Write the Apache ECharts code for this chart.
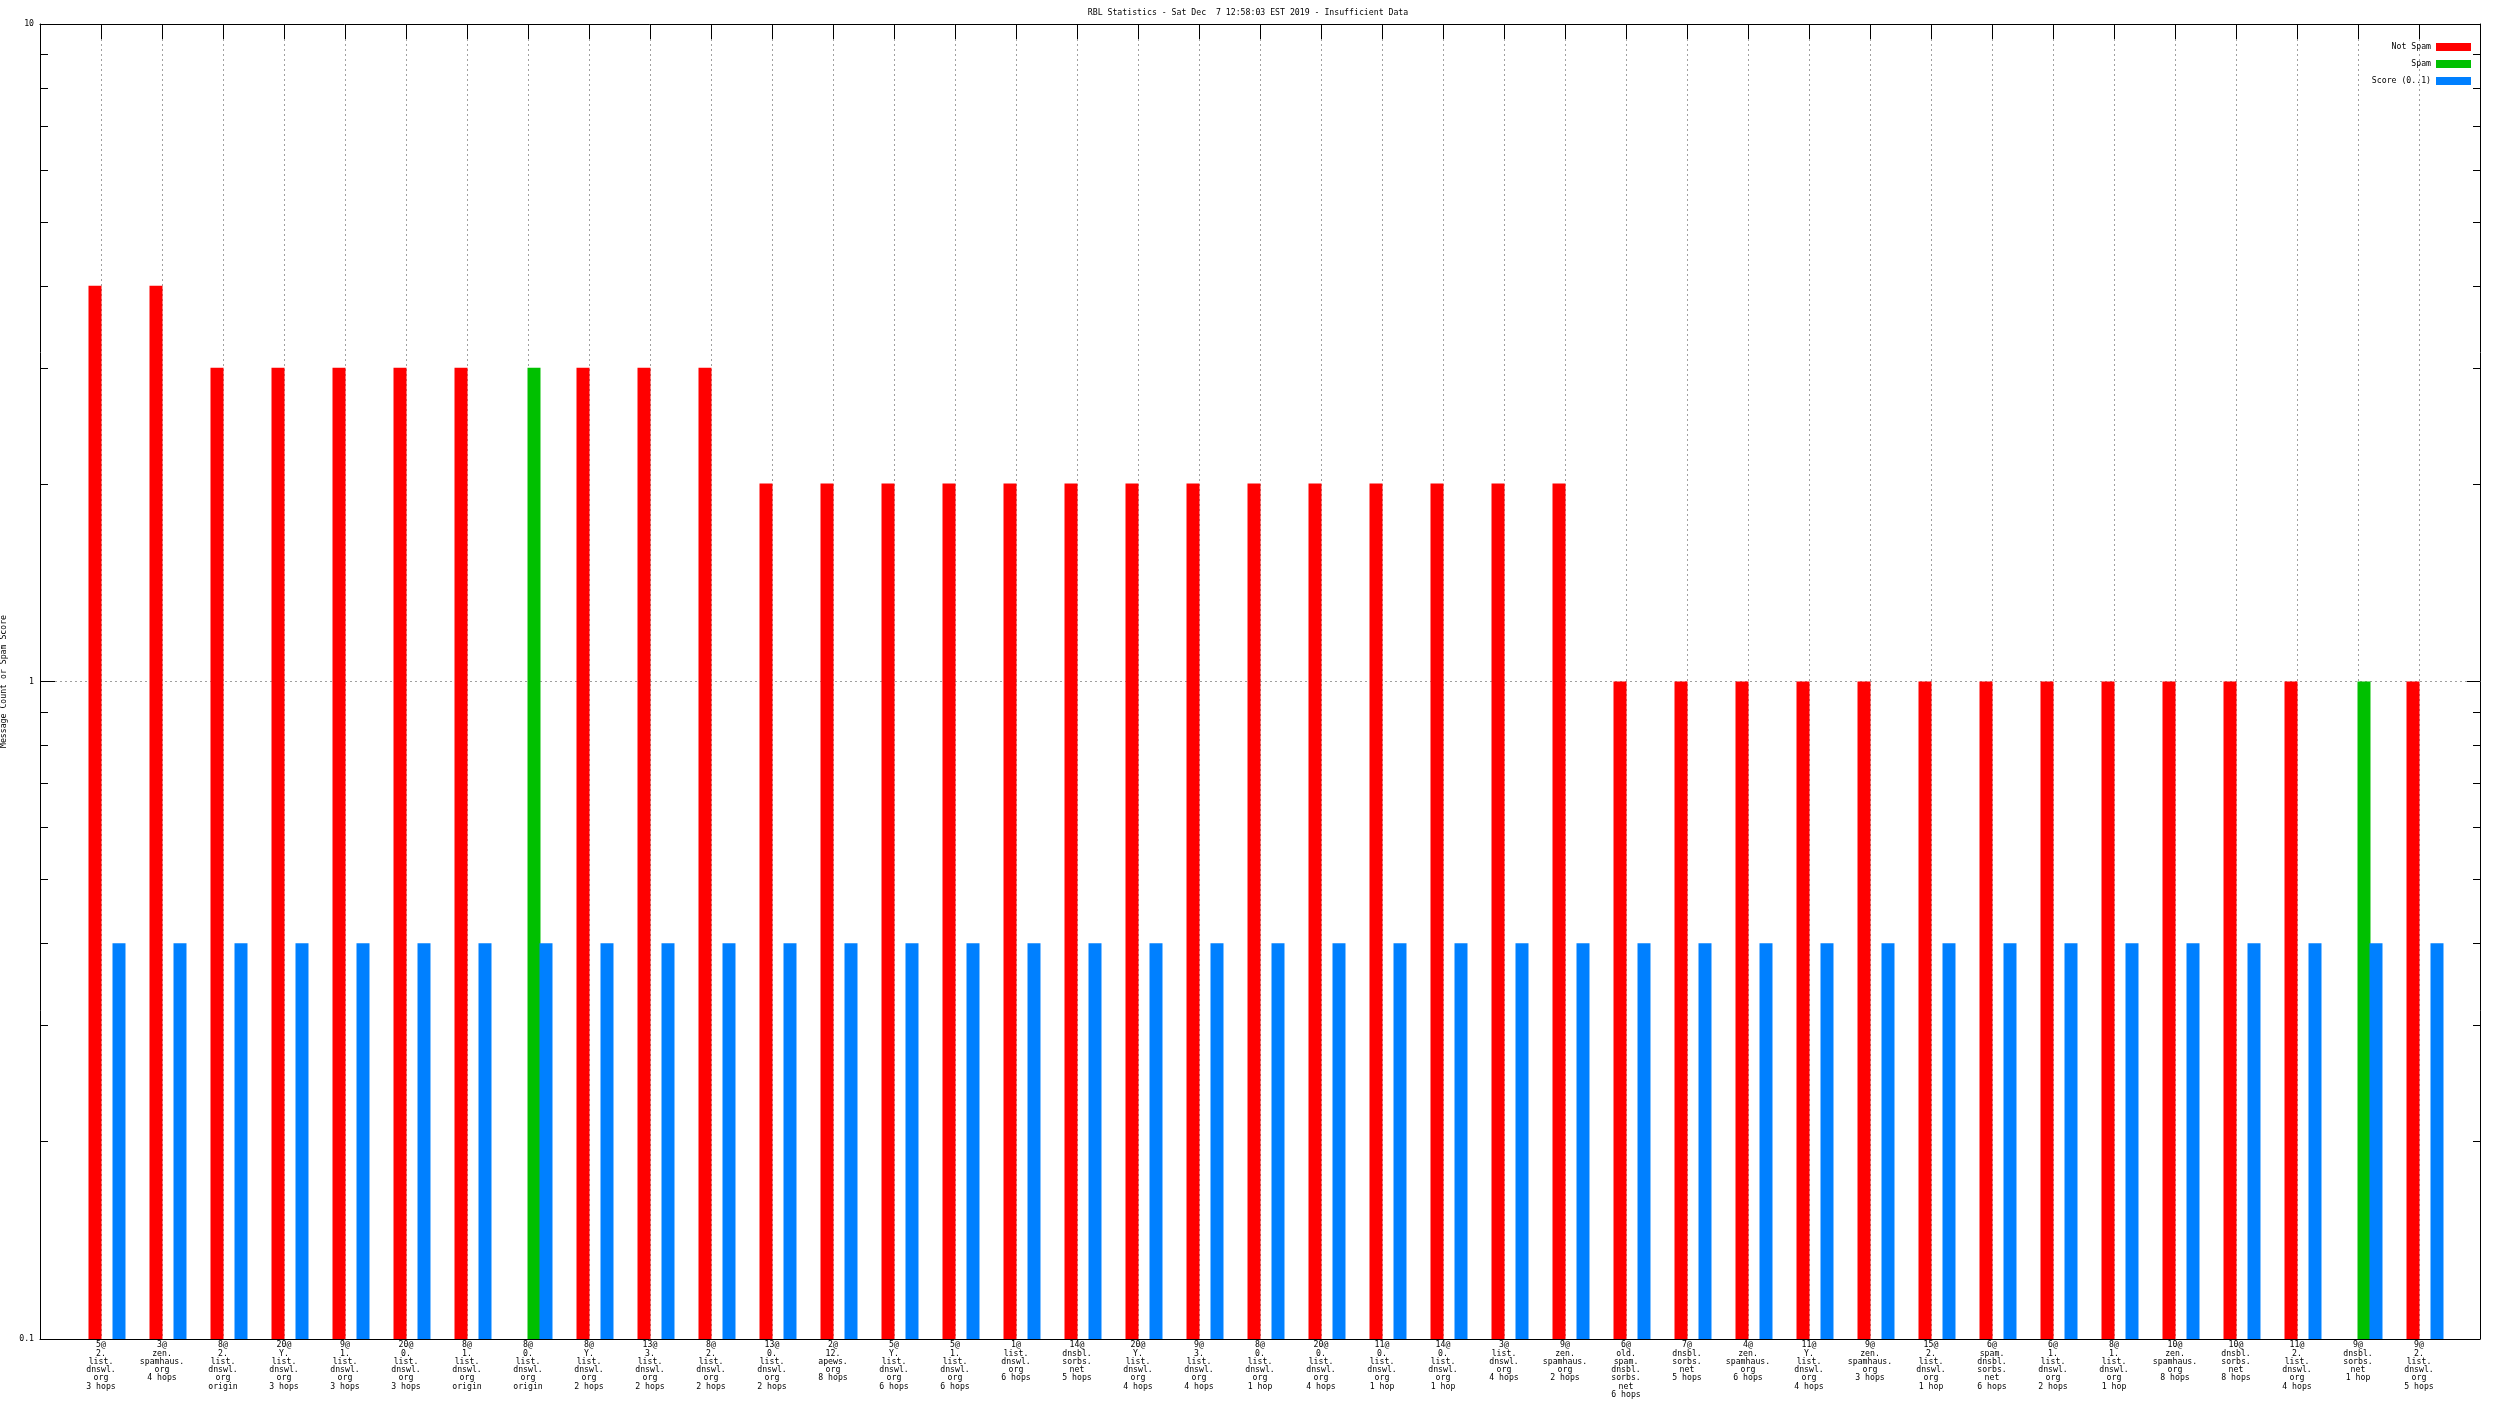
<!DOCTYPE html>
<html>
<head>
<meta charset="utf-8">
<script src="https://cdn.jsdelivr.net/npm/echarts@6/dist/echarts.min.js"></script>
<style>html,body{margin:0;padding:0;background:#fff}#c{width:2496px;height:1404px}</style>
</head>
<body>
<div id="c"></div>
<script>
const titleText = 'RBL Statistics - Sat Dec  7 12:58:03 EST 2019 - Insufficient Data';
const yAxisName = 'Message Count or Spam Score';
const categories = [
  '5@\n2.\nlist.\ndnswl.\norg\n3 hops',
  '3@\nzen.\nspamhaus.\norg\n4 hops',
  '8@\n2.\nlist.\ndnswl.\norg\norigin',
  '20@\nY.\nlist.\ndnswl.\norg\n3 hops',
  '9@\n1.\nlist.\ndnswl.\norg\n3 hops',
  '20@\n0.\nlist.\ndnswl.\norg\n3 hops',
  '8@\n1.\nlist.\ndnswl.\norg\norigin',
  '8@\n0.\nlist.\ndnswl.\norg\norigin',
  '8@\nY.\nlist.\ndnswl.\norg\n2 hops',
  '13@\n3.\nlist.\ndnswl.\norg\n2 hops',
  '8@\n2.\nlist.\ndnswl.\norg\n2 hops',
  '13@\n0.\nlist.\ndnswl.\norg\n2 hops',
  '2@\n12.\napews.\norg\n8 hops',
  '5@\nY.\nlist.\ndnswl.\norg\n6 hops',
  '5@\n1.\nlist.\ndnswl.\norg\n6 hops',
  '1@\nlist.\ndnswl.\norg\n6 hops',
  '14@\ndnsbl.\nsorbs.\nnet\n5 hops',
  '20@\nY.\nlist.\ndnswl.\norg\n4 hops',
  '9@\n3.\nlist.\ndnswl.\norg\n4 hops',
  '8@\n0.\nlist.\ndnswl.\norg\n1 hop',
  '20@\n0.\nlist.\ndnswl.\norg\n4 hops',
  '11@\n0.\nlist.\ndnswl.\norg\n1 hop',
  '14@\n0.\nlist.\ndnswl.\norg\n1 hop',
  '3@\nlist.\ndnswl.\norg\n4 hops',
  '9@\nzen.\nspamhaus.\norg\n2 hops',
  '6@\nold.\nspam.\ndnsbl.\nsorbs.\nnet\n6 hops',
  '7@\ndnsbl.\nsorbs.\nnet\n5 hops',
  '4@\nzen.\nspamhaus.\norg\n6 hops',
  '11@\nY.\nlist.\ndnswl.\norg\n4 hops',
  '9@\nzen.\nspamhaus.\norg\n3 hops',
  '15@\n2.\nlist.\ndnswl.\norg\n1 hop',
  '6@\nspam.\ndnsbl.\nsorbs.\nnet\n6 hops',
  '6@\n1.\nlist.\ndnswl.\norg\n2 hops',
  '8@\n1.\nlist.\ndnswl.\norg\n1 hop',
  '10@\nzen.\nspamhaus.\norg\n8 hops',
  '10@\ndnsbl.\nsorbs.\nnet\n8 hops',
  '11@\n2.\nlist.\ndnswl.\norg\n4 hops',
  '9@\ndnsbl.\nsorbs.\nnet\n1 hop',
  '9@\n2.\nlist.\ndnswl.\norg\n5 hops'
];
const notSpam = [4,4,3,3,3,3,3,null,3,3,3,2,2,2,2,2,2,2,2,2,2,2,2,2,2,1,1,1,1,1,1,1,1,1,1,1,1,null,1];
const spam    = [null,null,null,null,null,null,null,3,null,null,null,null,null,null,null,null,null,null,null,null,null,null,null,null,null,null,null,null,null,null,null,null,null,null,null,null,null,1,null];
const score   = [0.4,0.4,0.4,0.4,0.4,0.4,0.4,0.4,0.4,0.4,0.4,0.4,0.4,0.4,0.4,0.4,0.4,0.4,0.4,0.4,0.4,0.4,0.4,0.4,0.4,0.4,0.4,0.4,0.4,0.4,0.4,0.4,0.4,0.4,0.4,0.4,0.4,0.4,0.4];
const yTickValues = [0.1, 1, 10];
const yMinorTicks = [0.2,0.3,0.4,0.5,0.6,0.7,0.8,0.9,2,3,4,5,6,7,8,9];
const seriesNames = ['Not Spam','Spam','Score (0..1)'];
const seriesColors = ['#ff0000','#00c000','#0080ff'];

const FONT = 'DejaVu Sans Mono';
const FS = 8.2;
const pad = a => [null].concat(a, [null]);
const cats = [''].concat(categories, ['']);

const chart = echarts.init(document.getElementById('c'), null, {renderer: 'canvas'});
const barCommon = {type: 'bar', barWidth: 13, barGap: '-7.7%', xAxisIndex: 0, yAxisIndex: 0};
const option = {
  animation: false,
  backgroundColor: '#ffffff',
  title: {
    text: titleText, left: 'center', top: 8, padding: 0,
    textStyle: {fontFamily: FONT, fontSize: FS, fontWeight: 'normal', color: '#000', lineHeight: 9}
  },
  legend: {
    data: seriesNames, orient: 'vertical', right: 25, top: 43, align: 'right', padding: 0,
    itemWidth: 35, itemHeight: 8, itemGap: 9, icon: 'rect',
    textStyle: {fontFamily: FONT, fontSize: FS, color: '#000', lineHeight: 8}
  },
  grid: {left: 40, right: 16, top: 24, bottom: 65, containLabel: false, outerBoundsMode: 'none'},
  xAxis: [{
    type: 'category', data: cats, boundaryGap: false, position: 'bottom',
    axisLine: {show: true, lineStyle: {color: '#000', width: 1}},
    axisTick: {show: false},
    axisLabel: {interval: 0, fontFamily: FONT, fontSize: FS, lineHeight: 8.3, margin: 2, color: '#000', hideOverlap: false},
    splitLine: {show: true, interval: 0, lineStyle: {color: '#a0a0a0', type: [2, 3], width: 1}}
  }, {
    type: 'category', data: cats, boundaryGap: false, position: 'top',
    axisLine: {show: true, lineStyle: {color: '#000', width: 1}},
    axisTick: {show: true, inside: true, length: 15, interval: 0, lineStyle: {color: '#000'}},
    axisLabel: {show: false}, splitLine: {show: false}
  }],
  yAxis: [{
    type: 'log', logBase: 10, min: 0.1, max: 10, interval: 1, position: 'left', startValue: 0.1,
    name: yAxisName, nameLocation: 'middle', nameGap: 27, nameRotate: 90,
    nameTextStyle: {fontFamily: FONT, fontSize: FS, color: '#000'},
    axisLine: {show: true, lineStyle: {color: '#000', width: 1}},
    axisTick: {show: true, inside: true, length: 15, lineStyle: {color: '#000'}},
    axisLabel: {fontFamily: FONT, fontSize: FS, color: '#000', margin: 6,
      formatter: v => { const m = yTickValues.find(t => Math.abs(t - v) < 1e-9); return m === undefined ? '' : String(m); }},
    splitLine: {show: true, lineStyle: {color: '#a0a0a0', type: [2, 3], width: 1}}
  }, {
    type: 'log', logBase: 10, min: 0.1, max: 10, interval: 1, position: 'right',
    axisLine: {show: true, lineStyle: {color: '#000', width: 1}},
    axisTick: {show: true, inside: true, length: 13, lineStyle: {color: '#000'}},
    axisLabel: {show: false}, splitLine: {show: false}
  }],
  series: [
    Object.assign({name: 'pad', data: pad(categories.map(() => null))}, barCommon),
    Object.assign({name: seriesNames[0], data: pad(notSpam), itemStyle: {color: seriesColors[0]}}, barCommon),
    Object.assign({name: seriesNames[1], data: pad(spam), itemStyle: {color: seriesColors[1]}}, barCommon),
    Object.assign({name: seriesNames[2], data: pad(score), itemStyle: {color: seriesColors[2]}}, barCommon),
    {
      type: 'custom', name: 'minorTicks', silent: true, z: 10,
      xAxisIndex: 0, yAxisIndex: 0,
      data: yMinorTicks.map(v => [0, v]),
      renderItem: (params, api) => {
        const cs = params.coordSys;
        const y = Math.round(api.coord([0, api.value(1)])[1]) + 0.5;
        const style = {stroke: '#000', lineWidth: 1};
        return {type: 'group', children: [
          {type: 'line', shape: {x1: cs.x, y1: y, x2: cs.x + 8, y2: y}, style},
          {type: 'line', shape: {x1: cs.x + cs.width - 7, y1: y, x2: cs.x + cs.width, y2: y}, style}
        ]};
      }
    }
  ]
};
chart.setOption(option);
</script>
</body>
</html>
